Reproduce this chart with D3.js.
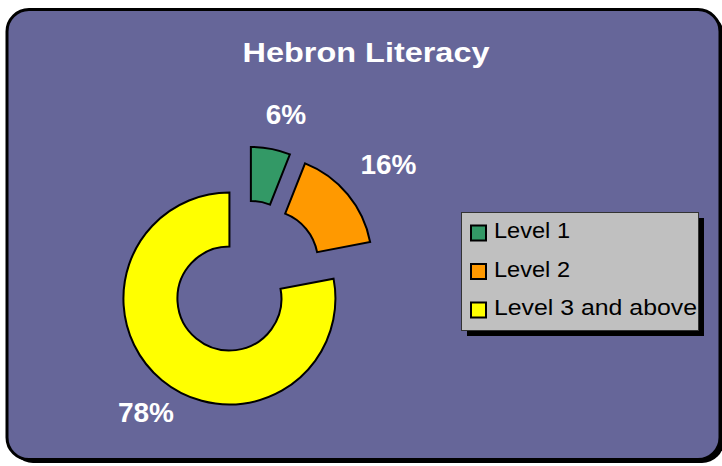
<!DOCTYPE html>
<html>
<head>
<meta charset="utf-8">
<script src="https://cdn.jsdelivr.net/npm/d3@7"></script>
<style>
html,body{margin:0;padding:0;background:#fff;}
svg{display:block;}
</style>
</head>
<body>
<svg id="chart" width="722" height="466"></svg>
<script>
const title = "Hebron Literacy";
const categories = ["Level 1", "Level 2", "Level 3 and above"];
const values = [6, 16, 78];
const labels = ["6%", "16%", "78%"];
const colors = ["#339966", "#FF9900", "#FFFF00"];

const svg = d3.select("#chart");
const font = "'Liberation Sans', Arial, sans-serif";

// background panel with shadow
svg.append("rect").attr("x", 11).attr("y", 13).attr("width", 713).attr("height", 450)
  .attr("rx", 22).attr("fill", "#000");
svg.append("rect").attr("x", 7).attr("y", 9.5).attr("width", 713).attr("height", 450)
  .attr("rx", 22).attr("fill", "#666699").attr("stroke", "#000").attr("stroke-width", 3);

// title
svg.append("text").attr("x", 366).attr("y", 62).attr("text-anchor", "middle")
  .attr("font-family", font).attr("font-weight", "bold").attr("font-size", 28)
  .attr("fill", "#fff").attr("textLength", 247).attr("lengthAdjust", "spacingAndGlyphs")
  .text(title);

// donut
const cx = 246, cy = 278.5, R = 106, r = 52, explode = 26;
const pie = d3.pie().sort(null).value(d => d)(values);
const arc = d3.arc().innerRadius(r).outerRadius(R);
const g = svg.append("g").attr("transform", `translate(${cx},${cy})`);
g.selectAll("path").data(pie).join("path")
  .attr("d", arc)
  .attr("transform", d => {
    const a = (d.startAngle + d.endAngle) / 2;
    return `translate(${explode * Math.sin(a)},${-explode * Math.cos(a)})`;
  })
  .attr("fill", (d, i) => colors[i])
  .attr("stroke", "#000").attr("stroke-width", 2).attr("stroke-linejoin", "miter");

// data labels
const labelPos = [[286, 124], [388.5, 174], [146, 422]];
svg.selectAll("text.lbl").data(labels).join("text").attr("class", "lbl")
  .attr("x", (d, i) => labelPos[i][0]).attr("y", (d, i) => labelPos[i][1])
  .attr("text-anchor", "middle").attr("font-family", font).attr("font-weight", "bold")
  .attr("font-size", 28).attr("fill", "#fff").text(d => d);

// legend
const lx = 461, ly = 212, lw = 237, lh = 118;
svg.append("rect").attr("x", lx + 6).attr("y", ly + 6).attr("width", lw).attr("height", lh).attr("fill", "#000");
svg.append("rect").attr("x", lx + 0.5).attr("y", ly + 0.5).attr("width", lw).attr("height", lh)
  .attr("fill", "#C0C0C0").attr("stroke", "#333").attr("stroke-width", 1);
const rowY = [238, 276.5, 315];
const textW = [76, 76, 203];
const items = svg.selectAll("g.leg").data(categories).join("g").attr("class", "leg");
items.append("rect").attr("x", 471).attr("y", (d, i) => rowY[i] - 12.5)
  .attr("width", 15).attr("height", 15)
  .attr("fill", (d, i) => colors[i]).attr("stroke", "#000").attr("stroke-width", 2);
items.append("text").attr("x", 494).attr("y", (d, i) => rowY[i])
  .attr("font-family", font).attr("font-size", 22).attr("fill", "#000")
  .attr("textLength", (d, i) => textW[i]).attr("lengthAdjust", "spacingAndGlyphs")
  .text(d => d);
</script>
</body>
</html>
